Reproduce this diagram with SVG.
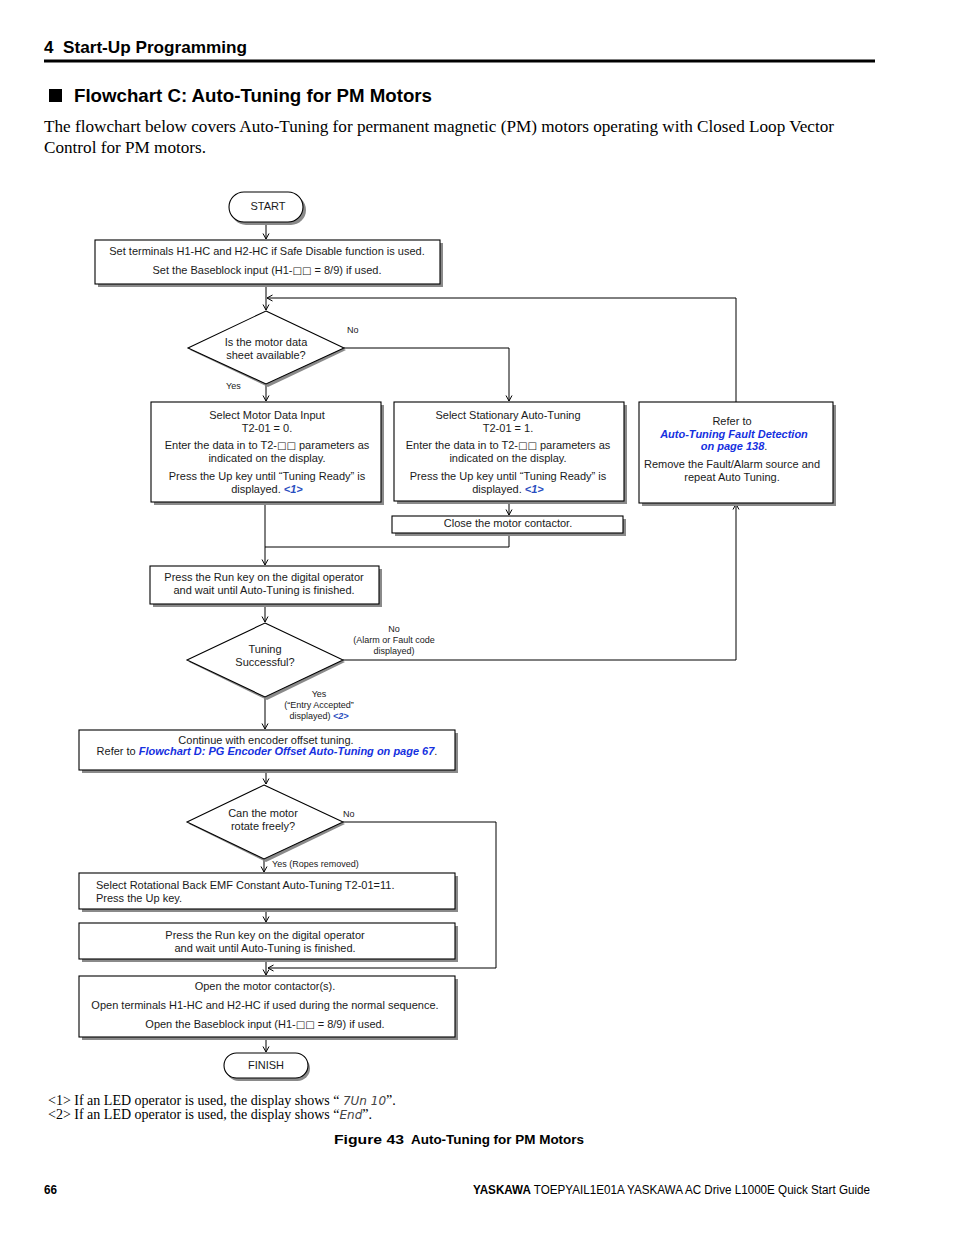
<svg xmlns="http://www.w3.org/2000/svg" width="954" height="1235" viewBox="0 0 954 1235">
<defs>
<style>
.bx{fill:#fff;stroke:#000;stroke-width:1.1}
.sh{fill:#8a8a8a}
.t{font-family:"Liberation Sans",Arial,sans-serif;font-size:11px;fill:#1a1a1a}
.c{text-anchor:middle}
.s{font-family:"Liberation Sans",Arial,sans-serif;font-size:9px;fill:#1a1a1a}
.lk{fill:#1530e0;font-weight:bold;font-style:italic}
.fn{fill:#2a4ec0;font-weight:bold;font-style:italic}
.sq{font-family:"DejaVu Sans",sans-serif;font-size:10px}
.cn{fill:none;stroke:#000;stroke-width:1}
.serif{font-family:"Liberation Serif","Times New Roman",serif;fill:#000}
.hd{font-family:"Liberation Sans",Arial,sans-serif;font-weight:bold;fill:#000}
.led{font-family:"DejaVu Sans",sans-serif;font-style:italic;font-weight:200;fill:#444}
</style>
<marker id="a" markerWidth="8" markerHeight="8" refX="7" refY="4" orient="auto" markerUnits="userSpaceOnUse">
<path d="M1.5,1 L7,4 L1.5,7" fill="none" stroke="#000" stroke-width="1"/>
</marker>
</defs>
<rect width="954" height="1235" fill="#fff"/>

<!-- page header -->
<text class="hd" x="44" y="53" font-size="17">4</text>
<text class="hd" x="63" y="53" font-size="17" textLength="184" lengthAdjust="spacingAndGlyphs">Start-Up Programming</text>
<rect x="44" y="59.5" width="831" height="3" fill="#000"/>
<rect x="49" y="89" width="13" height="13" fill="#000"/>
<text class="hd" x="74" y="102" font-size="18.5" textLength="358" lengthAdjust="spacingAndGlyphs">Flowchart C: Auto-Tuning for PM Motors</text>
<text class="serif" x="44" y="132" font-size="16" textLength="790" lengthAdjust="spacingAndGlyphs">The flowchart below covers Auto-Tuning for permanent magnetic (PM) motors operating with Closed Loop Vector</text>
<text class="serif" x="44" y="153" font-size="16" textLength="162" lengthAdjust="spacingAndGlyphs">Control for PM motors.</text>

<!-- connectors -->
<g id="connectors">
<path class="cn" d="M266,222 V239" marker-end="url(#a)"/>
<path class="cn" d="M266,284 V310" marker-end="url(#a)"/>
<path class="cn" d="M736,402 V298 H267" marker-end="url(#a)"/>
<path class="cn" d="M344,348 H509 V401" marker-end="url(#a)"/>
<path class="cn" d="M266,384 V401" marker-end="url(#a)"/>
<path class="cn" d="M509,501 V515" marker-end="url(#a)"/>
<path class="cn" d="M509,533 V547 H265"/>
<path class="cn" d="M265,503 V565" marker-end="url(#a)"/>
<path class="cn" d="M265,604 V622" marker-end="url(#a)"/>
<path class="cn" d="M343,660 H736 V504" marker-end="url(#a)"/>
<path class="cn" d="M265,697 V729" marker-end="url(#a)"/>
<path class="cn" d="M266,770 V784" marker-end="url(#a)"/>
<path class="cn" d="M343,822 H496 V968 H268" marker-end="url(#a)"/>
<path class="cn" d="M264,859 V872" marker-end="url(#a)"/>
<path class="cn" d="M266,909 V922" marker-end="url(#a)"/>
<path class="cn" d="M266,959 V975" marker-end="url(#a)"/>
<path class="cn" d="M266,1037 V1052" marker-end="url(#a)"/>
</g>

<!-- nodes -->
<g id="start">
<rect class="sh" x="231" y="195" width="75" height="30" rx="15"/>
<rect class="bx" x="229" y="192" width="74" height="30" rx="15"/>
<text class="t c" x="268" y="210">START</text>
</g>

<g id="box-safe">
<rect class="sh" x="98" y="243" width="345" height="44"/>
<rect class="bx" x="95" y="240" width="345" height="44"/>
<text class="t c" x="267" y="255">Set terminals H1-HC and H2-HC if Safe Disable function is used.</text>
<text class="t c" x="267" y="274">Set the Baseblock input (H1-<tspan class="sq">□□</tspan> = 8/9) if used.</text>
</g>

<g id="dec-datasheet">
<polygon class="sh" points="268,314 346,350 268,387 190,350"/>
<polygon class="bx" points="266,311 344,348 266,384 188,348"/>
<text class="t c" x="266" y="346">Is the motor data</text>
<text class="t c" x="266" y="359">sheet available?</text>
<text class="s" x="347" y="333">No</text>
<text class="s" x="226" y="389">Yes</text>
</g>

<g id="box-motordata">
<rect class="sh" x="154" y="405" width="230" height="100"/>
<rect class="bx" x="151" y="402" width="230" height="100"/>
<text class="t c" x="267" y="419">Select Motor Data Input</text>
<text class="t c" x="267" y="432">T2-01 = 0.</text>
<text class="t c" x="267" y="449">Enter the data in to T2-<tspan class="sq">□□</tspan> parameters as</text>
<text class="t c" x="267" y="462">indicated on the display.</text>
<text class="t c" x="267" y="480">Press the Up key until “Tuning Ready” is</text>
<text class="t c" x="267" y="493">displayed. <tspan class="fn">&lt;1&gt;</tspan></text>
</g>

<g id="box-stationary">
<rect class="sh" x="397" y="405" width="230" height="99"/>
<rect class="bx" x="394" y="402" width="230" height="99"/>
<text class="t c" x="508" y="419">Select Stationary Auto-Tuning</text>
<text class="t c" x="508" y="432">T2-01 = 1.</text>
<text class="t c" x="508" y="449">Enter the data in to T2-<tspan class="sq">□□</tspan> parameters as</text>
<text class="t c" x="508" y="462">indicated on the display.</text>
<text class="t c" x="508" y="480">Press the Up key until “Tuning Ready” is</text>
<text class="t c" x="508" y="493">displayed. <tspan class="fn">&lt;1&gt;</tspan></text>
</g>

<g id="box-fault">
<rect class="sh" x="642" y="405" width="194" height="101"/>
<rect class="bx" x="639" y="402" width="194" height="101"/>
<text class="t c" x="732" y="425">Refer to</text>
<text class="t c lk" x="734" y="438">Auto-Tuning Fault Detection</text>
<text class="t c" x="734" y="450"><tspan class="lk">on page 138</tspan>.</text>
<text class="t c" x="732" y="468">Remove the Fault/Alarm source and</text>
<text class="t c" x="732" y="481">repeat Auto Tuning.</text>
</g>

<g id="box-contactor">
<rect class="sh" x="395" y="519" width="231" height="17"/>
<rect class="bx" x="392" y="516" width="231" height="17"/>
<text class="t c" x="508" y="527">Close the motor contactor.</text>
</g>

<g id="box-run1">
<rect class="sh" x="153" y="569" width="229" height="38"/>
<rect class="bx" x="150" y="566" width="229" height="38"/>
<text class="t c" x="264" y="581">Press the Run key on the digital operator</text>
<text class="t c" x="264" y="594">and wait until Auto-Tuning is finished.</text>
</g>

<g id="dec-tuning">
<polygon class="sh" points="267,626 345,662 267,700 189,662"/>
<polygon class="bx" points="265,623 343,660 265,697 187,660"/>
<text class="t c" x="265" y="653">Tuning</text>
<text class="t c" x="265" y="666">Successful?</text>
<text class="s c" x="394" y="632" font-size="8.5">No</text>
<text class="s c" x="394" y="643" font-size="8.5">(Alarm or Fault code</text>
<text class="s c" x="394" y="654" font-size="8.5">displayed)</text>
<text class="s c" x="319" y="697" font-size="8.5">Yes</text>
<text class="s c" x="319" y="708" font-size="8.5">(“Entry Accepted”</text>
<text class="s c" x="319" y="719" font-size="8.5">displayed) <tspan class="fn" font-style="normal">&lt;2&gt;</tspan></text>
</g>

<g id="box-continue">
<rect class="sh" x="82" y="733" width="376" height="40"/>
<rect class="bx" x="79" y="730" width="376" height="40"/>
<text class="t c" x="266" y="744">Continue with encoder offset tuning.</text>
<text class="t c" x="267" y="755">Refer to <tspan class="lk">Flowchart D: PG Encoder Offset Auto-Tuning on page 67</tspan>.</text>
</g>

<g id="dec-rotate">
<polygon class="sh" points="266,788 345,824 266,862 189,824"/>
<polygon class="bx" points="264,785 343,822 264,859 187,822"/>
<text class="t c" x="263" y="817">Can the motor</text>
<text class="t c" x="263" y="830">rotate freely?</text>
<text class="s" x="343" y="817">No</text>
<text class="s" x="272" y="867">Yes (Ropes removed)</text>
</g>

<g id="box-backemf">
<rect class="sh" x="82" y="876" width="376" height="36"/>
<rect class="bx" x="79" y="873" width="376" height="36"/>
<text class="t" x="96" y="889">Select Rotational Back EMF Constant Auto-Tuning T2-01=11.</text>
<text class="t" x="96" y="902">Press the Up key.</text>
</g>

<g id="box-run2">
<rect class="sh" x="82" y="926" width="376" height="36"/>
<rect class="bx" x="79" y="923" width="376" height="36"/>
<text class="t c" x="265" y="939">Press the Run key on the digital operator</text>
<text class="t c" x="265" y="952">and wait until Auto-Tuning is finished.</text>
</g>

<g id="box-open">
<rect class="sh" x="82" y="979" width="376" height="61"/>
<rect class="bx" x="79" y="976" width="376" height="61"/>
<text class="t c" x="265" y="990">Open the motor contactor(s).</text>
<text class="t c" x="265" y="1009">Open terminals H1-HC and H2-HC if used during the normal sequence.</text>
<text class="t c" x="265" y="1028">Open the Baseblock input (H1-<tspan class="sq">□□</tspan> = 8/9) if used.</text>
</g>

<g id="finish">
<rect class="sh" x="226" y="1056" width="84" height="25" rx="12.5"/>
<rect class="bx" x="224" y="1053" width="84" height="25" rx="12.5"/>
<text class="t c" x="266" y="1069">FINISH</text>
</g>

<!-- footnotes -->
<text class="serif" x="48" y="1105" font-size="14">&lt;1&gt; If an LED operator is used, the display shows “ <tspan class="led" font-size="12">7Un 10</tspan>”.</text>
<text class="serif" x="48" y="1119" font-size="14">&lt;2&gt; If an LED operator is used, the display shows “<tspan class="led" font-size="12">End</tspan>”.</text>
<text class="hd" x="334" y="1144" font-size="13.5" textLength="70" lengthAdjust="spacingAndGlyphs">Figure 43</text>
<text class="hd" x="411" y="1144" font-size="13.5" textLength="173" lengthAdjust="spacingAndGlyphs">Auto-Tuning for PM Motors</text>

<!-- footer -->
<text class="hd" x="44" y="1194" font-size="12.5" textLength="13" lengthAdjust="spacingAndGlyphs">66</text>
<text x="870" y="1194" font-family="Liberation Sans, Arial, sans-serif" font-size="12.5" text-anchor="end" textLength="397" lengthAdjust="spacingAndGlyphs" fill="#000"><tspan font-weight="bold">YASKAWA</tspan> TOEPYAIL1E01A YASKAWA AC Drive L1000E Quick Start Guide</text>
</svg>
